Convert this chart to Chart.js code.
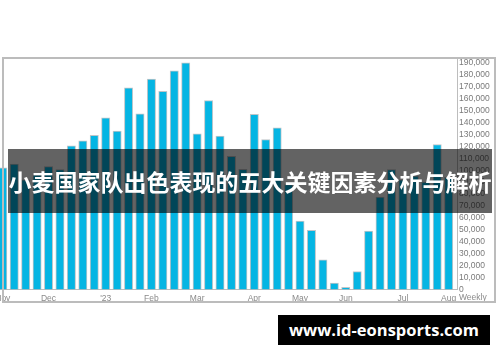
<!DOCTYPE html>
<html>
<head>
<meta charset="utf-8">
<script src="https://cdn.jsdelivr.net/npm/chart.js"></script>
<style>
  html, body { margin: 0; padding: 0; background: #fff; }
  #wrap { position: relative; width: 500px; height: 362px; overflow: hidden; }
  #myChart { position: absolute; left: 0; top: 0; }
  .frame { position: absolute; left: 2px; top: 57px; width: 490px; height: 242px; border: 2px solid #bcbcbc; pointer-events: none; }
  .banner { position: absolute; left: 8px; top: 149px; width: 484px; height: 64px; background: rgba(0,0,0,0.61);
    color: #fff; font: bold 23px "Noto Sans CJK SC", sans-serif; line-height: 64px; text-align: center; white-space: nowrap; }
  .mark { position: absolute; left: 278px; top: 315px; width: 212px; height: 30px; background: #000;
    color: #fff; font: bold 16.5px "Open Sans", sans-serif; line-height: 30px; text-align: center; white-space: nowrap; }
</style>
</head>
<body>
<div id="wrap">
  <canvas id="myChart" width="500" height="362"></canvas>
  <div class="frame"></div>
  <div class="banner">小麦国家队出色表现的五大关键因素分析与解析</div>
  <div class="mark">www.id-eonsports.com</div>
</div>
<script>
// weekly values, one per week (index = week number)
const weekly = [
  102000, 105000, 92000, 96000, 103000, 100500, 120300, 124500, 129300, 143800,
  132700, 169000, 147200, 176300, 166000, 183300, 190000, 130400, 158400, 128500,
  111700, 100700, 146700, 125700, 135400, 88000, 57300, 49500, 24900, 5300,
  1900, 15100, 49000, 77500, 100500, 92000, 95000, 90000, 121500, 94000
];
const monthWeeks = [0, 4, 9, 13, 17, 22, 26, 30, 35, 39];
const monthLabels = ['Nov', 'Dec', "'23", 'Feb', 'Mar', 'Apr', 'May', 'Jun', 'Jul', 'Aug'];
const yTicks = [0, 10000, 20000, 30000, 40000, 50000, 60000, 70000, 80000, 90000, 100000,
  110000, 120000, 130000, 140000, 150000, 160000, 170000, 180000, 190000];

const ctx = document.getElementById('myChart');

const weeklyLabel = {
  id: 'weeklyLabel',
  afterDraw(chart) {
    const c = chart.ctx;
    c.save();
    c.font = '8.5px "Liberation Sans", Arial, sans-serif';
    c.fillStyle = '#8a8a8a';
    c.textAlign = 'left';
    c.textBaseline = 'middle';
    c.fillText('Weekly', chart.chartArea.right + 2, 298);
    c.restore();
  }
};

new Chart(ctx, {
  type: 'bar',
  data: {
    datasets: [{
      label: 'Weekly',
      data: weekly.map((v, i) => ({ x: i, y: v })),
      backgroundColor: '#05b5e3',
      borderColor: 'rgba(140,150,155,0.55)',
      borderWidth: 1,
      borderSkipped: 'bottom',
      barThickness: 8.3
    }]
  },
  options: {
    responsive: false,
    animation: false,
    layout: { padding: { left: 0, right: 0, top: 58, bottom: 59.5 } },
    scales: {
      x: {
        type: 'linear',
        offset: false,
        min: -0.245,
        max: 39.73,
        grid: { display: false, drawTicks: false, offset: false },
        border: { display: true, color: '#bdbdbd', width: 1 },
        afterBuildTicks: (scale) => { scale.ticks = monthWeeks.map(v => ({ value: v })); },
        afterFit: (scale) => { scale.height = 13; scale.paddingLeft = 0; scale.paddingRight = 0; },
        ticks: {
          autoSkip: false,
          maxRotation: 0,
          padding: 4,
          color: '#8a8a8a',
          font: { family: '"Liberation Sans", Arial, sans-serif', size: 8.5 },
          callback: (v) => monthLabels[monthWeeks.indexOf(v)]
        }
      },
      y: {
        position: 'right',
        min: 0,
        max: 194000,
        grid: { display: false, drawTicks: false },
        border: { display: true, color: '#bdbdbd', width: 1 },
        afterBuildTicks: (scale) => { scale.ticks = yTicks.map(v => ({ value: v })); },
        afterFit: (scale) => { scale.width = 43; scale.paddingTop = 0; scale.paddingBottom = 0; },
        ticks: {
          autoSkip: false,
          padding: 2,
          color: '#7a7a7a',
          font: { family: '"Liberation Sans", Arial, sans-serif', size: 8.5 },
          callback: (v) => v.toLocaleString('en-US')
        }
      }
    },
    plugins: {
      legend: { display: false },
      tooltip: { enabled: false }
    }
  },
  plugins: [weeklyLabel]
});
</script>
</body>
</html>
